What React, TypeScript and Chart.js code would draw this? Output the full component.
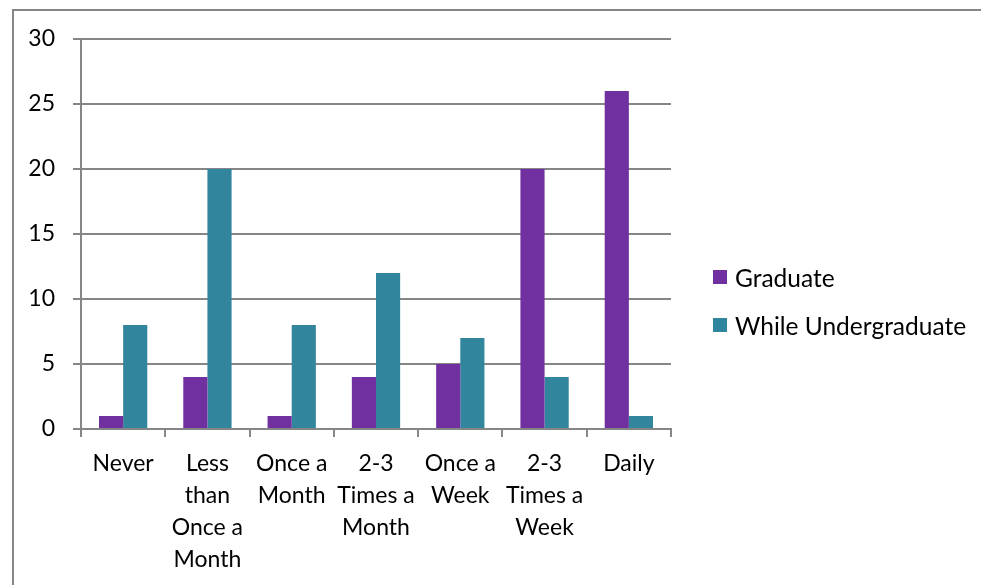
import React, { useEffect, useRef } from "react";
import { Chart, registerables } from "chart.js";
Chart.register(...registerables);

const categories: string[][] = [
  ["Never"],
  ["Less", "than", "Once a", "Month"],
  ["Once a", "Month"],
  ["2-3", "Times a", "Month"],
  ["Once a", "Week"],
  ["2-3", "Times a", "Week"],
  ["Daily"],
];
const seriesNames = ["Graduate", "While Undergraduate"];
const graduate = [1, 4, 1, 4, 5, 20, 26];
const whileUndergraduate = [8, 20, 8, 12, 7, 4, 1];
const yMin = 0;
const yMax = 30;
const yStep = 5;

const colors = ["#7030A0", "#31859C"];
const gridColor = "#868686";
const fontFamily = "Lato, 'Noto Sans', sans-serif";
const fontSize = 23;

export default function App() {
  const ref = useRef<HTMLCanvasElement | null>(null);
  useEffect(() => {
    if (!ref.current) return;
    const chart = new Chart(ref.current, {
      type: "bar",
      data: {
        labels: categories,
        datasets: [
          {
            label: seriesNames[0],
            data: graduate,
            backgroundColor: colors[0],
            categoryPercentage: 0.573,
            barPercentage: 1,
          },
          {
            label: seriesNames[1],
            data: whileUndergraduate,
            backgroundColor: colors[1],
            categoryPercentage: 0.573,
            barPercentage: 1,
          },
        ],
      },
      options: {
        animation: false,
        responsive: false,
        maintainAspectRatio: false,
        layout: { padding: { left: 0, top: 39, right: 310, bottom: 0 } },
        plugins: { legend: { display: false }, tooltip: { enabled: false } },
        scales: {
          x: {
            grid: {
              offset: true,
              drawOnChartArea: false,
              drawTicks: true,
              tickLength: 8,
              color: gridColor,
              lineWidth: 2,
            },
            border: { display: true, color: gridColor, width: 2 },
            ticks: {
              color: "#000",
              font: { family: fontFamily, size: fontSize, lineHeight: "32px" as any },
              padding: 11,
              maxRotation: 0,
              minRotation: 0,
              autoSkip: false,
            },
            afterFit: (scale: any) => {
              scale.height = 156;
            },
          },
          y: {
            min: yMin,
            max: yMax,
            grid: {
              color: gridColor,
              lineWidth: 2,
              drawTicks: true,
              tickLength: 8,
            },
            border: { display: true, color: gridColor, width: 2 },
            ticks: {
              stepSize: yStep,
              color: "#000",
              font: { family: fontFamily, size: fontSize },
              padding: 18,
            },
            afterFit: (scale: any) => {
              scale.width = 81;
            },
          },
        },
      },
    });
    return () => chart.destroy();
  }, []);

  return (
    <div style={{ position: "absolute", left: 0, top: 0, width: 981, height: 585, overflow: "hidden", background: "#fff" }}>
      <div
        style={{
          position: "absolute",
          left: 12,
          top: 9,
          width: 1000,
          height: 600,
          borderTop: `2px solid ${gridColor}`,
          borderLeft: `2px solid ${gridColor}`,
        }}
      />
      <canvas ref={ref} width={981} height={585} style={{ position: "absolute", left: 0, top: 0, width: 981, height: 585 }} />
      {seriesNames.map((name, i) => (
        <div
          key={name}
          style={{
            position: "absolute",
            left: 713,
            top: 277 + i * 48 - 16,
            height: 32,
            display: "flex",
            alignItems: "center",
            fontFamily,
            fontSize: 24.5,
            color: "#000",
            whiteSpace: "nowrap",
          }}
        >
          <span style={{ display: "inline-block", width: 14, height: 14, background: colors[i], marginRight: 8 }} />
          <span>{name}</span>
        </div>
      ))}
    </div>
  );
}
